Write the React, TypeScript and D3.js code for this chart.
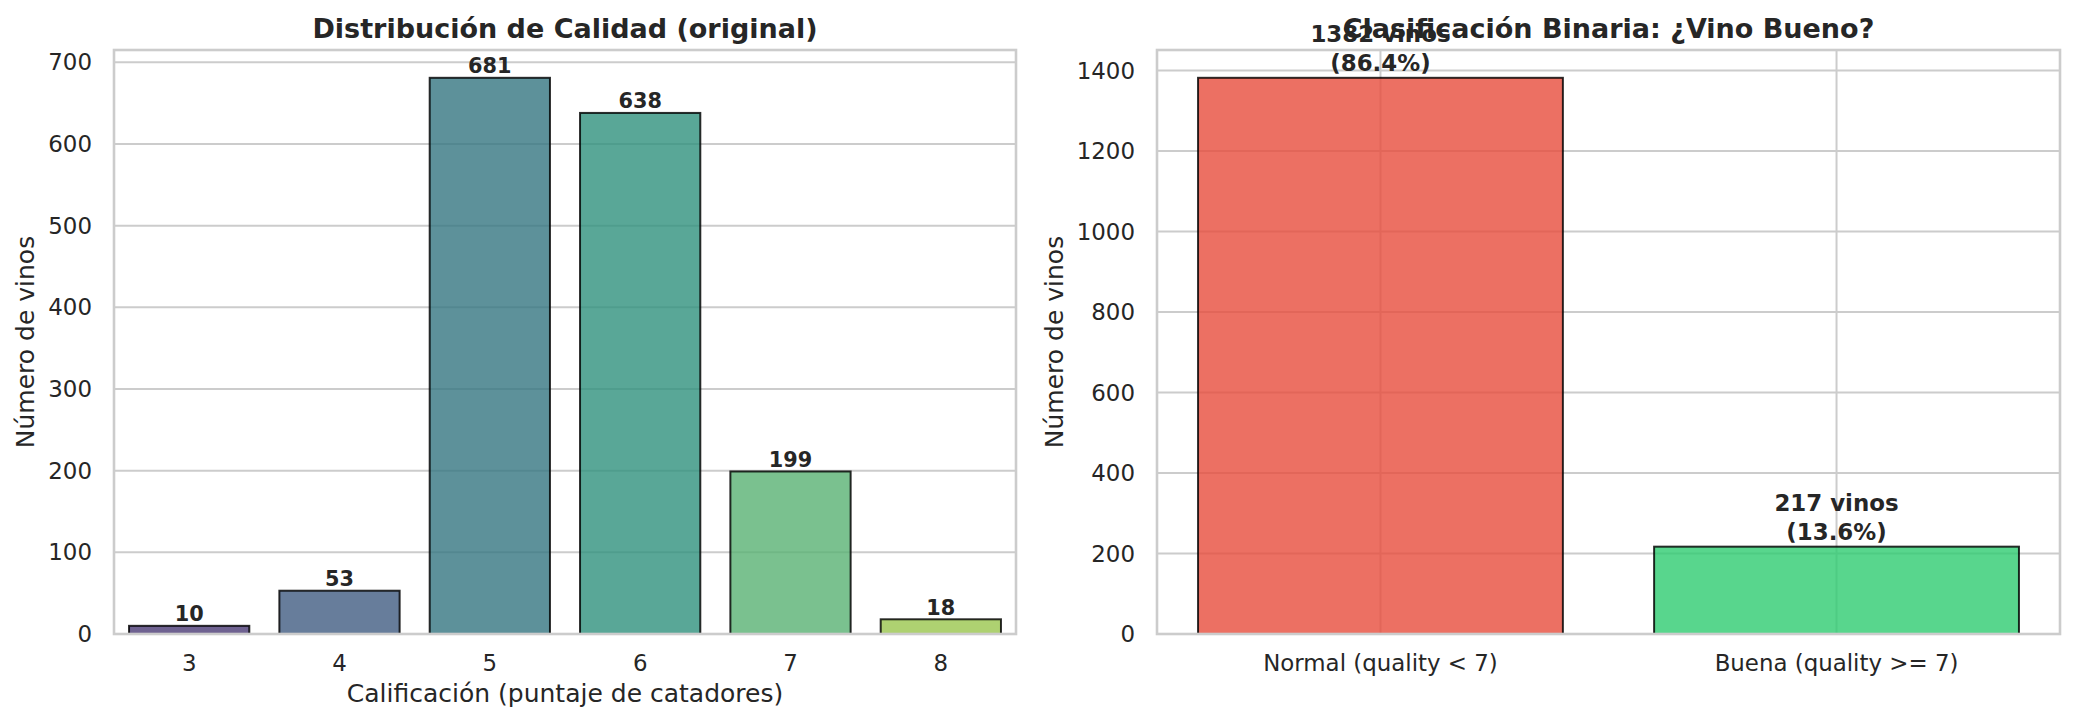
import * as d3 from "d3"

// calidad original
const qualityLabels = ["3", "4", "5", "6", "7", "8"]
const qualityCounts = [10, 53, 681, 638, 199, 18]
const leftYTicks = [0, 100, 200, 300, 400, 500, 600, 700]

// clasificación binaria
const binaryLabels = ["Normal (quality < 7)", "Buena (quality >= 7)"]
const binaryCounts = [1382, 217]
const binaryColors = ["#e74c3c", "#2ecc71"]
const rightYTicks = [0, 200, 400, 600, 800, 1000, 1200, 1400]

const W = 2075
const H = 726
const FONT = "DejaVu Sans, sans-serif"
const TEXT = "#262626"
const GRID = "#cccccc"

const top = 50
const bottom = 634

// seaborn desatura los colores de barplot (saturation=0.75)
function desat(c: string, k: number) {
  const h = d3.hsl(c)
  h.s *= k
  return h.formatHex()
}

function YLabel({ x, cy }: { x: number; cy: number }) {
  return (
    <text
      transform={`translate(${x},${cy}) rotate(-90)`}
      textAnchor="middle"
      dy="0.35em"
      fontSize={25}
      fill={TEXT}
    >
      Número de vinos
    </text>
  )
}

function LeftChart() {
  const x0 = 114
  const x1 = 1016
  const x = d3.scaleLinear().domain([-0.5, qualityLabels.length - 0.5]).range([x0, x1])
  const y = d3.scaleLinear().domain([0, d3.max(qualityCounts)! * 1.05]).range([bottom, top])
  const bw = x(0.4) - x(-0.4)
  const palette = qualityLabels.map((_, i) =>
    desat(d3.interpolateViridis((i + 1) / (qualityLabels.length + 1)), 0.75)
  )

  return (
    <g>
      {leftYTicks.map((t) => (
        <g key={t}>
          <line x1={x0} x2={x1} y1={y(t)} y2={y(t)} stroke={GRID} strokeWidth={2} />
          <text x={x0 - 22} y={y(t)} dy="0.35em" textAnchor="end" fontSize={22.9} fill={TEXT}>
            {t}
          </text>
        </g>
      ))}
      {qualityCounts.map((v, i) => (
        <g key={i}>
          <rect
            x={x(i) - bw / 2}
            y={y(v)}
            width={bw}
            height={bottom - y(v)}
            fill={palette[i]}
            fillOpacity={0.8}
            stroke="#000"
            strokeOpacity={0.82}
            strokeWidth={2}
          />
          <text
            x={x(i)}
            y={y(v) - 4.7}
            textAnchor="middle"
            fontSize={20.8}
            fontWeight="bold"
            fill={TEXT}
          >
            {v}
          </text>
          <text x={x(i)} y={671} textAnchor="middle" fontSize={22.9} fill={TEXT}>
            {qualityLabels[i]}
          </text>
        </g>
      ))}
      <rect x={x0} y={top} width={x1 - x0} height={bottom - top} fill="none" stroke={GRID} strokeWidth={2.6} />
      <text x={(x0 + x1) / 2} y={37.5} textAnchor="middle" fontSize={27} fontWeight="bold" fill={TEXT}>
        Distribución de Calidad (original)
      </text>
      <text x={(x0 + x1) / 2} y={702} textAnchor="middle" fontSize={25} fill={TEXT}>
        Calificación (puntaje de catadores)
      </text>
      <YLabel x={25} cy={(top + bottom) / 2} />
    </g>
  )
}

function RightChart() {
  const x0 = 1157
  const x1 = 2060
  const x = d3.scaleLinear().domain([-0.49, 1.49]).range([x0, x1])
  const y = d3.scaleLinear().domain([0, d3.max(binaryCounts)! * 1.05]).range([bottom, top])
  const bw = x(0.4) - x(-0.4)
  const total = d3.sum(binaryCounts)

  return (
    <g>
      {rightYTicks.map((t) => (
        <g key={t}>
          <line x1={x0} x2={x1} y1={y(t)} y2={y(t)} stroke={GRID} strokeWidth={2} />
          <text x={x0 - 22} y={y(t)} dy="0.35em" textAnchor="end" fontSize={22.9} fill={TEXT}>
            {t}
          </text>
        </g>
      ))}
      {binaryLabels.map((_, i) => (
        <line key={i} x1={x(i)} x2={x(i)} y1={top} y2={bottom} stroke={GRID} strokeWidth={2} />
      ))}
      {binaryCounts.map((v, i) => (
        <g key={i}>
          <rect
            x={x(i) - bw / 2}
            y={y(v)}
            width={bw}
            height={bottom - y(v)}
            fill={binaryColors[i]}
            fillOpacity={0.8}
            stroke="#000"
            strokeOpacity={0.82}
            strokeWidth={2}
          />
          <text x={x(i)} y={671} textAnchor="middle" fontSize={22.9} fill={TEXT}>
            {binaryLabels[i]}
          </text>
        </g>
      ))}
      <rect x={x0} y={top} width={x1 - x0} height={bottom - top} fill="none" stroke={GRID} strokeWidth={2.6} />
      <text x={(x0 + x1) / 2} y={37.5} textAnchor="middle" fontSize={27} fontWeight="bold" fill={TEXT}>
        Clasificación Binaria: ¿Vino Bueno?
      </text>
      {binaryCounts.map((v, i) => (
        <text key={i} x={x(i)} textAnchor="middle" fontSize={22.9} fontWeight="bold" fill={TEXT}>
          <tspan x={x(i)} y={y(v) - 7 - 28.5}>{`${v} vinos`}</tspan>
          <tspan x={x(i)} y={y(v) - 7}>{`(${((v / total) * 100).toFixed(1)}%)`}</tspan>
        </text>
      ))}
      <YLabel x={1054} cy={(top + bottom) / 2} />
    </g>
  )
}

export default function App() {
  return (
    <svg
      width={W}
      height={H}
      viewBox={`0 0 ${W} ${H}`}
      style={{ position: "absolute", left: 0, top: 0, background: "#fff" }}
      fontFamily={FONT}
    >
      <rect width={W} height={H} fill="#fff" />
      <LeftChart />
      <RightChart />
    </svg>
  )
}
